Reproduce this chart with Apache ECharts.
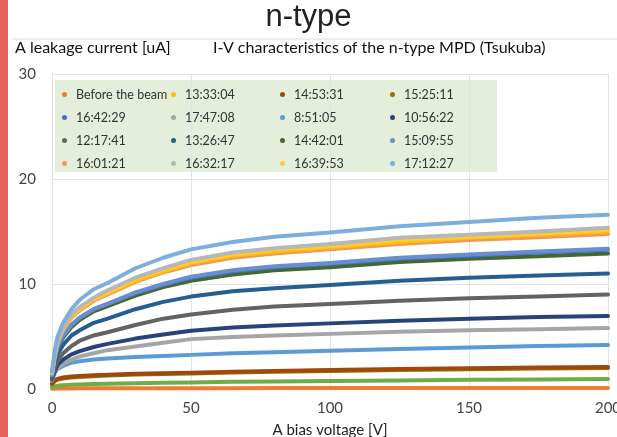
<!DOCTYPE html>
<html>
<head>
<meta charset="utf-8">
<script src="https://cdn.jsdelivr.net/npm/echarts@6/dist/echarts.min.js"></script>
<style>html,body{margin:0;padding:0;background:#fff}#c{width:617px;height:437px}</style>
</head>
<body>
<div id="c"></div>
<script>
// Bias voltage sample points [V]
const voltages = [0,1,2,4,7,10,15,20,30,40,50,65,80,100,125,150,175,200];

// Leakage current [uA] per series
const s_0851 = [1.0,1.6,1.9,2.2,2.5,2.65,2.8,2.9,3.05,3.15,3.25,3.4,3.5,3.65,3.8,3.95,4.1,4.2];
const s_1056 = [0.9,1.7,2.3,2.8,3.3,3.6,4.0,4.3,4.8,5.2,5.55,5.85,6.05,6.25,6.5,6.7,6.85,6.95];
const s_1217 = [0.9,2.0,2.7,3.4,4.1,4.6,5.1,5.4,6.1,6.7,7.1,7.55,7.85,8.1,8.4,8.65,8.8,9.0];
const s_1326 = [1.1,2.4,3.3,4.2,5.1,5.6,6.3,6.7,7.6,8.3,8.8,9.3,9.6,9.9,10.3,10.6,10.8,11.0];
const s_1333 = [1.5,3.3,4.5,5.7,6.9,7.6,8.5,9.1,10.3,11.2,12.0,12.7,13.1,13.5,14.0,14.4,14.7,15.0];
const s_1442 = [1.3,2.8,3.9,4.9,5.9,6.6,7.4,7.9,8.9,9.7,10.3,10.9,11.3,11.6,12.1,12.4,12.65,12.9];
const s_1453 = [0.5,0.8,0.95,1.1,1.2,1.25,1.3,1.35,1.45,1.5,1.55,1.65,1.72,1.8,1.9,1.97,2.05,2.1];
const s_1509 = [1.3,2.9,4.0,5.1,6.1,6.8,7.6,8.1,9.2,10.0,10.7,11.3,11.7,12.0,12.5,12.8,13.1,13.35];
const s_1525 = [0.45,0.75,0.9,1.0,1.1,1.15,1.22,1.28,1.37,1.42,1.48,1.57,1.64,1.72,1.8,1.88,1.95,2.0];
const s_1601 = [1.5,3.2,4.4,5.6,6.8,7.5,8.4,9.0,10.2,11.1,11.8,12.5,12.9,13.3,13.8,14.2,14.45,14.75];
const s_1632 = [1.5,3.4,4.6,5.8,7.1,7.8,8.7,9.4,10.6,11.5,12.3,13.0,13.4,13.8,14.4,14.7,15.0,15.35];
const s_1639 = [1.5,3.3,4.5,5.8,7.0,7.7,8.6,9.2,10.5,11.4,12.1,12.8,13.3,13.6,14.2,14.5,14.8,15.15];
const s_1642 = [1.3,2.9,4.0,5.0,6.1,6.8,7.6,8.1,9.1,9.9,10.6,11.2,11.6,11.9,12.4,12.7,13.0,13.25];
const s_1712 = [1.7,3.7,5.0,6.3,7.6,8.5,9.5,10.1,11.5,12.5,13.3,14.0,14.5,14.9,15.5,15.9,16.3,16.6];
const s_1747 = [0.8,1.5,2.0,2.4,2.8,3.1,3.4,3.7,4.05,4.4,4.75,4.95,5.1,5.25,5.45,5.6,5.7,5.8];
const s_extra = [0.15,0.25,0.3,0.35,0.4,0.43,0.47,0.5,0.55,0.6,0.63,0.68,0.72,0.76,0.82,0.87,0.91,0.95];
const s_before = [0.02,0.03,0.04,0.05,0.05,0.06,0.06,0.07,0.07,0.08,0.08,0.08,0.09,0.09,0.09,0.1,0.1,0.1];

// Legend layout (4 columns, row-wise order as in the reference)
const legendCols = [
  ['Before the beam','16:42:29','12:17:41','16:01:21'],
  ['13:33:04','17:47:08','13:26:47','16:32:17'],
  ['14:53:31','8:51:05','14:42:01','16:39:53'],
  ['15:25:11','10:56:22','15:09:55','17:12:27']
];
const yTicks = [0,10,20,30];
const xTicks = [0,50,100,150,200];

const seriesDefs = [
  ['Before the beam', s_before, '#ED7D31'],
  ['', s_extra, '#70AD47'],
  ['15:25:11', s_1525, '#997300'],
  ['14:53:31', s_1453, '#9E480E'],
  ['8:51:05', s_0851, '#5B9BD5'],
  ['17:47:08', s_1747, '#A5A5A5'],
  ['10:56:22', s_1056, '#264478'],
  ['12:17:41', s_1217, '#636363'],
  ['13:26:47', s_1326, '#255E91'],
  ['14:42:01', s_1442, '#43682B'],
  ['16:42:29', s_1642, '#4472C4'],
  ['15:09:55', s_1509, '#698ED0'],
  ['16:01:21', s_1601, '#F1975A'],
  ['13:33:04', s_1333, '#FFC000'],
  ['16:39:53', s_1639, '#FFCD33'],
  ['16:32:17', s_1632, '#B7B7B7'],
  ['17:12:27', s_1712, '#7CAFDD']
];

const FONT = 'Lato, "Open Sans", sans-serif';
const chart = echarts.init(document.getElementById('c'), null, {renderer:'canvas'});

const series = seriesDefs.map(([name, vals, color]) => ({
  name: name || 'unlabeled',
  type: 'line',
  smooth: false,
  showSymbol: false,
  color: color,
  lineStyle: {width: 4, color: color, join: 'round', cap: 'round'},
  data: voltages.map((v, i) => [v, vals[i]]),
  animation: false
}));

const colX = [57, 166, 275, 385];
const legends = legendCols.map((names, i) => ({
  orient: 'vertical',
  left: colX[i],
  top: 83,
  itemWidth: 5,
  itemHeight: 5,
  itemGap: 10,
  icon: 'circle',
  data: names,
  selectedMode: false,
  textStyle: {fontFamily: FONT, fontSize: 12.5, color: '#333', lineHeight: 13, padding: [0,0,0,4]}
}));

chart.setOption({
  animation: false,
  backgroundColor: '#fff',
  graphic: [
    {type:'rect', shape:{x:0, y:0, width:8, height:437}, style:{fill:'#e3615a'}, z: 100},
    {type:'line', shape:{x1:12, y1:39, x2:617, y2:39}, style:{stroke:'#dcdcdc', lineWidth:1}},
    {type:'text', left:'center', top:2, style:{text:'n-type', font:'31px "Liberation Sans", Arial, sans-serif', fill:'#222'}},
    {type:'text', left:15, top:40, style:{text:'A leakage current [uA]', font:'16px ' + FONT, fill:'#111'}},
    {type:'text', left:213, top:40, style:{text:'I-V characteristics of the n-type MPD (Tsukuba)', font:'16px ' + FONT, fill:'#111'}},
    {type:'rect', shape:{x:55, y:80, width:442, height:92}, style:{fill:'#e3eedb'}, z: -1}
  ],
  legend: legends,
  grid: {left: 52, right: 9, top: 74, bottom: 48, containLabel: false, outerBoundsMode: 'none'},
  xAxis: {
    type: 'value', min: xTicks[0], max: xTicks[xTicks.length-1], interval: 50,
    name: 'A bias voltage [V]', nameLocation: 'middle', nameGap: 34,
    nameTextStyle: {fontFamily: FONT, fontSize: 15, color: '#222'},
    axisLine: {show: true, lineStyle: {color: '#d9d9d9'}},
    axisTick: {show: false},
    axisLabel: {fontFamily: FONT, fontSize: 15, color: '#444', margin: 12},
    splitLine: {show: true, lineStyle: {color: '#e3e3e3'}}
  },
  yAxis: {
    type: 'value', min: yTicks[0], max: yTicks[yTicks.length-1], interval: 10,
    axisLine: {show: false},
    axisTick: {show: false},
    axisLabel: {fontFamily: FONT, fontSize: 15, color: '#444', margin: 16},
    splitLine: {show: true, lineStyle: {color: '#e3e3e3'}}
  },
  series: series
});
</script>
</body>
</html>
